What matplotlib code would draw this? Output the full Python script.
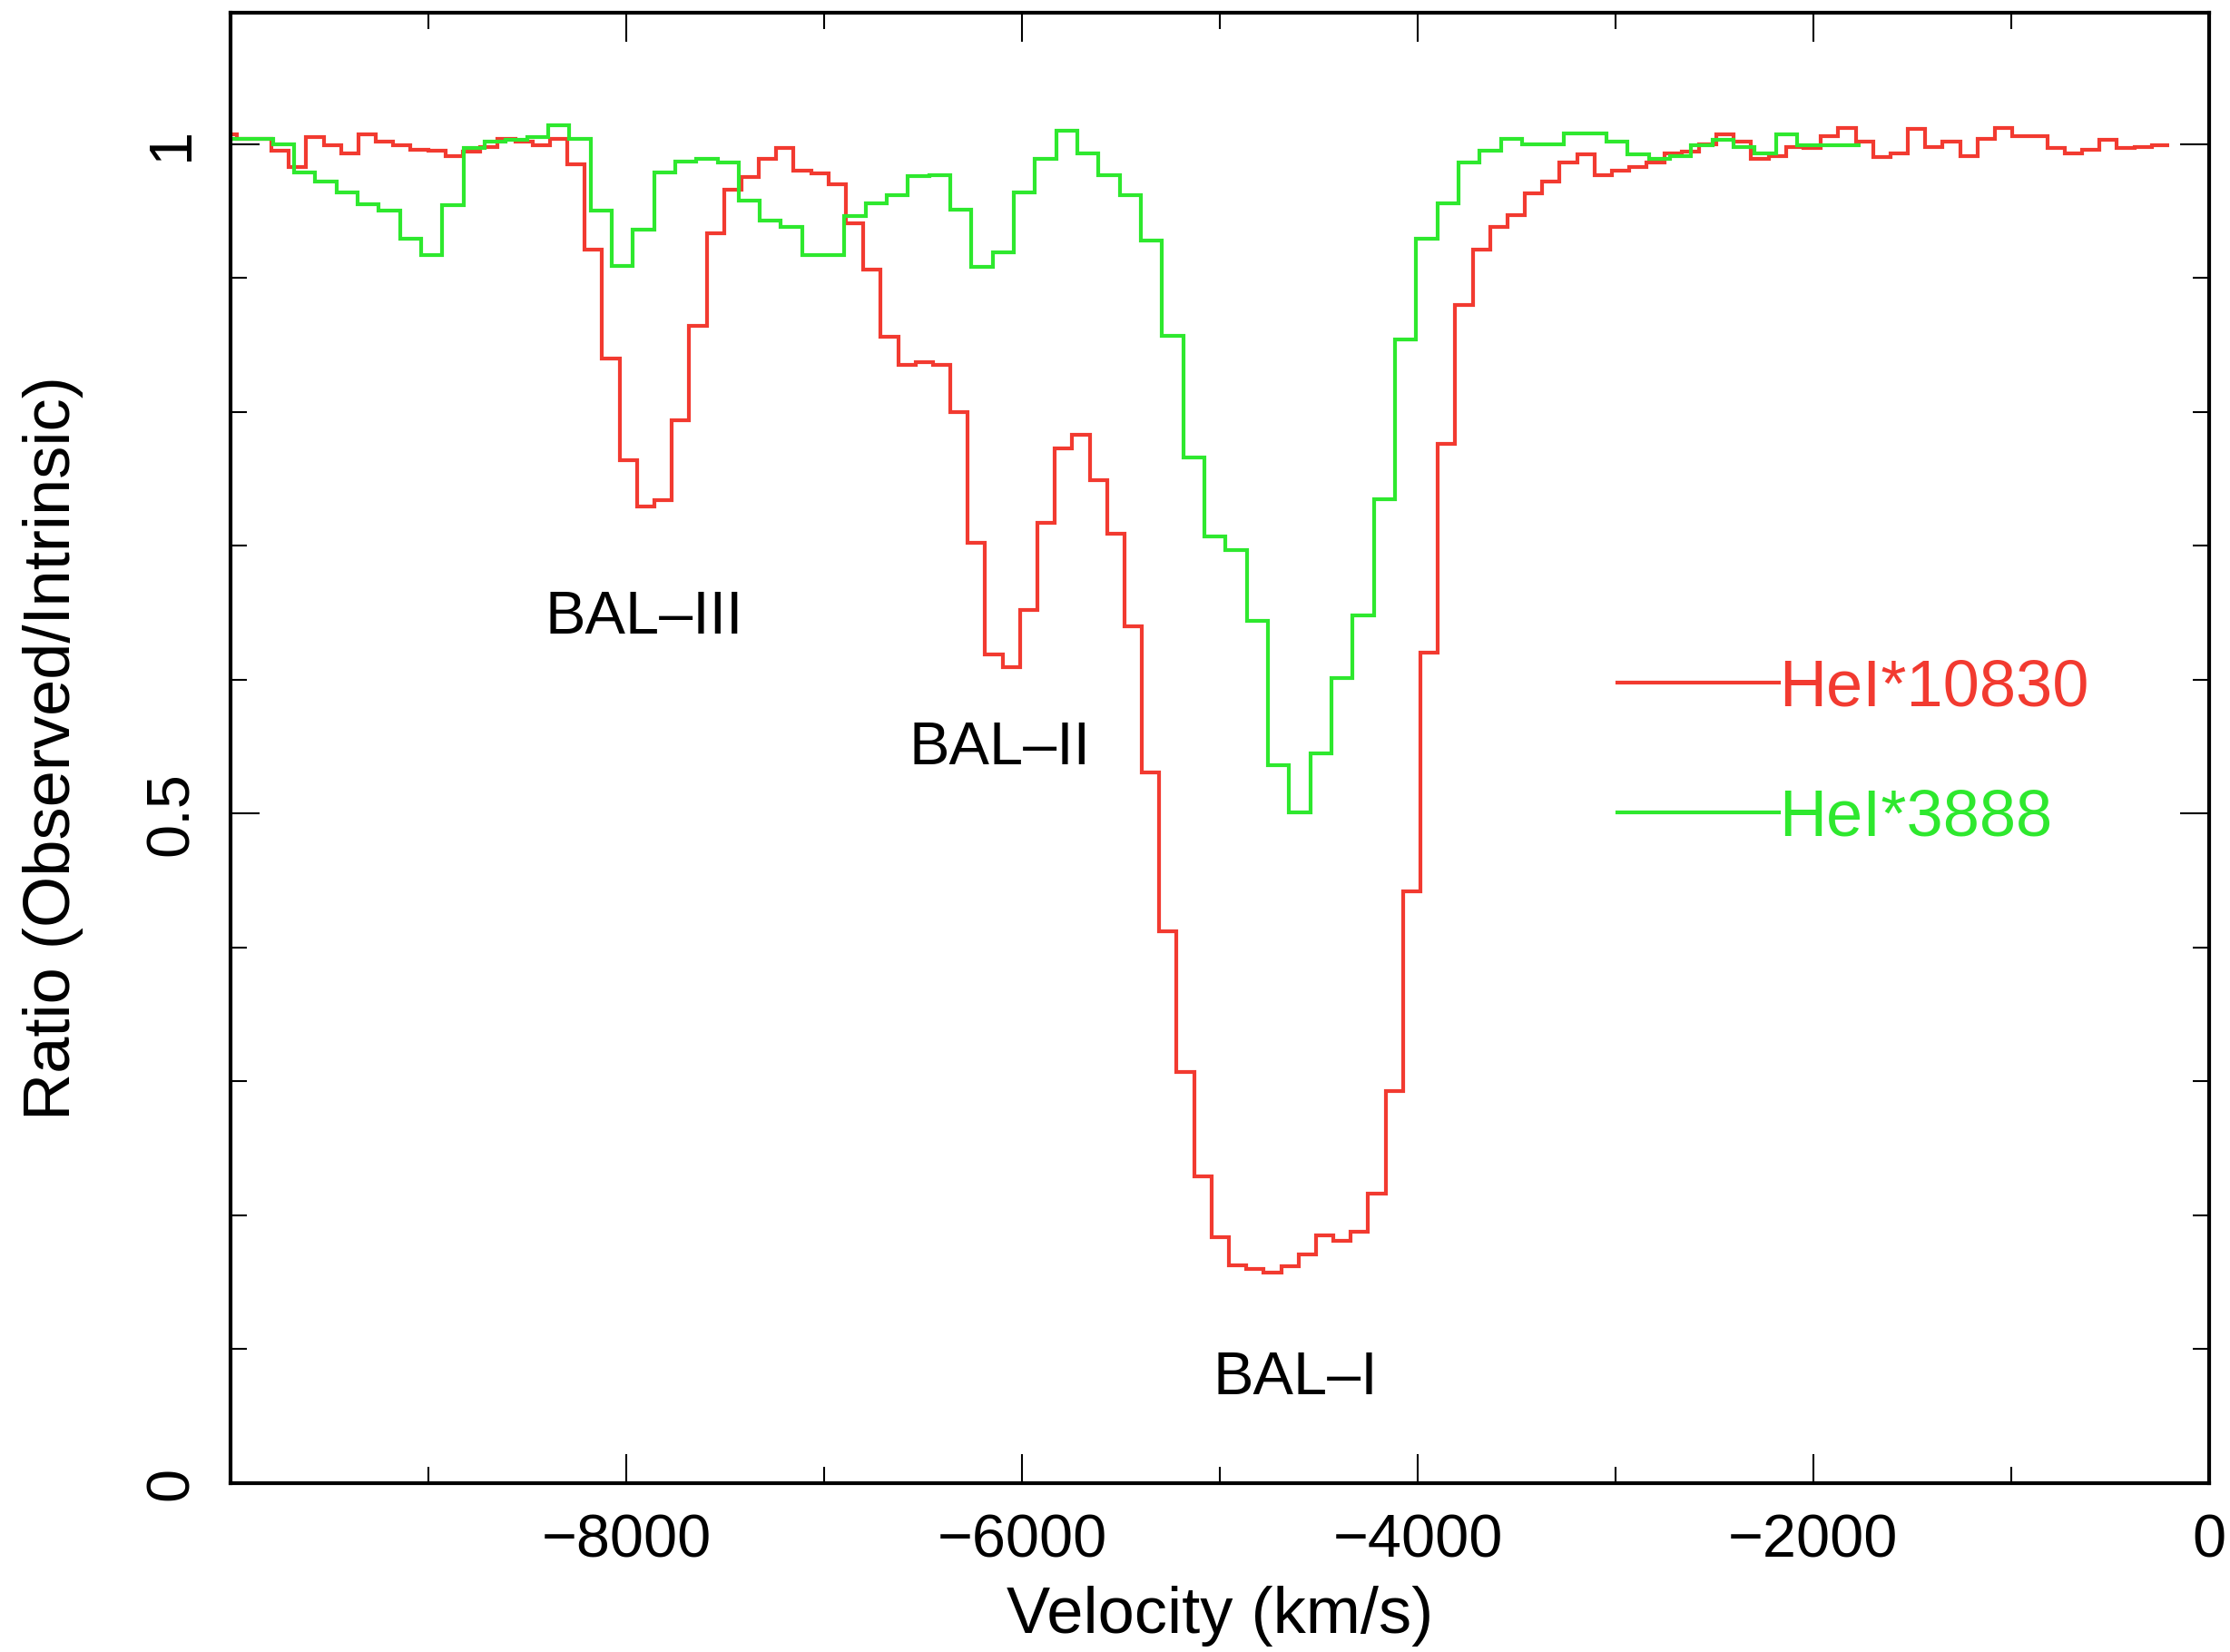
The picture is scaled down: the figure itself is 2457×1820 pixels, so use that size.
import numpy as np
import matplotlib
matplotlib.use("Agg")
import matplotlib.pyplot as plt
from matplotlib.ticker import MultipleLocator, FixedLocator

plt.rcParams['font.family'] = ['Liberation Sans', 'DejaVu Sans']

# HeI*10830 ratio, bins of 88 km/s starting at -10058 km/s
red_start, red_bin = -10058, 88
red_values = [
    1.007, 1.004, 1.004, 0.995, 0.983, 1.005, 0.999, 0.993, 1.007, 1.002,
    0.999, 0.996, 0.995, 0.991, 0.994, 0.998, 1.004, 1.002, 0.999, 1.004,
    0.985, 0.921, 0.840, 0.764, 0.729, 0.734, 0.794, 0.864, 0.933, 0.966,
    0.975, 0.989, 0.997, 0.980, 0.978, 0.970, 0.941, 0.906, 0.856, 0.835,
    0.837, 0.835, 0.800, 0.702, 0.619, 0.609, 0.652, 0.717, 0.773, 0.783,
    0.749, 0.709, 0.640, 0.531, 0.412, 0.307, 0.229, 0.184, 0.163, 0.160,
    0.157, 0.162, 0.171, 0.185, 0.181, 0.188, 0.216, 0.293, 0.442, 0.620,
    0.776, 0.880, 0.921, 0.938, 0.947, 0.963, 0.972, 0.986, 0.992, 0.977,
    0.980, 0.983, 0.986, 0.993, 0.994, 1.000, 1.007, 1.002, 0.989, 0.991,
    0.998, 0.997, 1.006, 1.012, 1.002, 0.990, 0.993, 1.011, 0.998, 1.002,
    0.991, 1.004, 1.012, 1.006, 1.006, 0.997, 0.993, 0.996, 1.003, 0.997,
    0.998, 0.999,
]

# HeI*3888 ratio, bins of 107 km/s starting at -10000 km/s
green_start, green_bin = -10000, 107
green_values = [
    1.004, 1.004, 1.000, 0.979, 0.972, 0.964, 0.955, 0.950, 0.929, 0.917,
    0.954, 0.997, 1.002, 1.003, 1.005, 1.014, 1.004, 0.950, 0.909, 0.936,
    0.979, 0.987, 0.989, 0.986, 0.958, 0.943, 0.938, 0.917, 0.917, 0.946,
    0.956, 0.962, 0.976, 0.977, 0.951, 0.908, 0.919, 0.964, 0.989, 1.010,
    0.993, 0.977, 0.962, 0.928, 0.857, 0.766, 0.707, 0.697, 0.644, 0.536,
    0.501, 0.545, 0.601, 0.648, 0.735, 0.854, 0.929, 0.956, 0.986, 0.995,
    1.004, 1.000, 1.000, 1.008, 1.008, 1.002, 0.992, 0.989, 0.991, 0.999,
    1.003, 0.998, 0.993, 1.007, 0.999, 0.999, 0.999,
]

labels = ['BAL\u2013III', 'BAL\u2013II', 'BAL\u2013I']
label_x = [-7912, -6112, -4618]
label_y = [0.646, 0.548, 0.078]

red_col = '#f23a30'
green_col = '#2ee82e'

red_edges = red_start + red_bin * np.arange(len(red_values) + 1)
green_edges = green_start + green_bin * np.arange(len(green_values) + 1)

fig = plt.figure(figsize=(24.57, 18.2), dpi=100)
ax = fig.add_axes([0.1034, 0.1022, 0.8872, 0.8901])

ax.stairs(red_values, red_edges, baseline=None, color=red_col, lw=3.0, label='HeI*10830')
ax.stairs(green_values, green_edges, baseline=None, color=green_col, lw=3.0, label='HeI*3888')

for t, x, y in zip(labels, label_x, label_y):
    ax.text(x, y, t, fontsize=48, ha='center', va='center')

ax.set_xlim(-10000, 0)
ax.set_ylim(0, 1.098)
ax.xaxis.set_major_locator(FixedLocator([-8000, -6000, -4000, -2000, 0]))
ax.xaxis.set_minor_locator(MultipleLocator(1000))
ax.yaxis.set_major_locator(FixedLocator([0, 0.5, 1]))
ax.yaxis.set_minor_locator(MultipleLocator(0.1))
ax.set_yticklabels(['0', '0.5', '1'])

ax.tick_params(which='both', direction='in', top=True, right=True, width=1.5,
               labelsize=48)
ax.tick_params(which='major', length=23)
ax.tick_params(which='minor', length=13)
ax.tick_params(axis='x', pad=24)
ax.tick_params(axis='y', pad=24)
for lab in ax.get_yticklabels():
    lab.set_rotation(90)
    lab.set_va('center')

for s in ax.spines.values():
    s.set_linewidth(3)

ax.set_xlabel('Velocity (km/s)', fontsize=52, labelpad=13)
ax.set_ylabel('Ratio (Observed/Intrinsic)', fontsize=52, labelpad=48)

ax.legend(loc='center left', bbox_to_anchor=(0.701, 0.496), frameon=False,
          fontsize=52, handlelength=2.46, handletextpad=0, labelspacing=1.05,
          borderpad=0, borderaxespad=0, labelcolor='linecolor')

fig.savefig('out.png', dpi=100)
